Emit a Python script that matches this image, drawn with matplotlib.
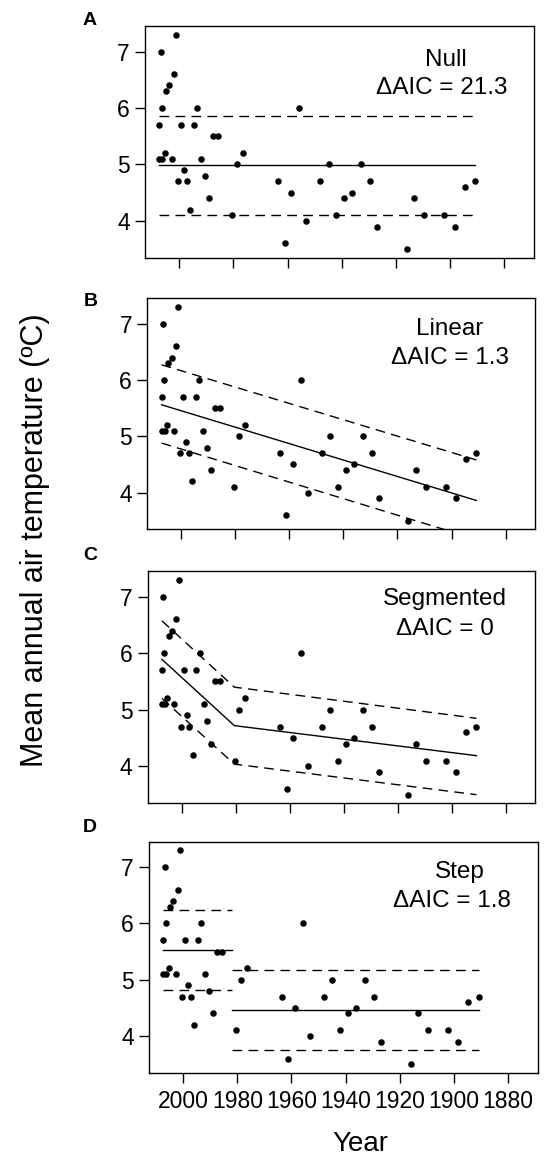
import numpy as np
import matplotlib
matplotlib.use("Agg")
import matplotlib.pyplot as plt

plt.rcParams['font.family'] = ['Liberation Sans', 'DejaVu Sans']

years = np.array([2007.3, 2007.3, 2006.8, 2006.4, 2006.2, 2005.3, 2004.8, 2003.6,
                  2002.8, 2002.0, 2001.1, 2000.4, 1999.3, 1998.2, 1997.2, 1995.9,
                  1994.6, 1993.4, 1991.9, 1990.5, 1989.0, 1987.5, 1985.7, 1980.4,
                  1978.6, 1976.6, 1963.4, 1961.1, 1958.6, 1955.8, 1953.2, 1947.9,
                  1944.9, 1942.1, 1939.2, 1936.1, 1932.8, 1929.6, 1926.9, 1916.0,
                  1913.2, 1909.5, 1902.2, 1898.4, 1894.7, 1890.8])
temps = np.array([5.7, 5.1, 7.0, 6.0, 5.1, 5.2, 6.3, 6.4,
                  5.1, 6.6, 7.3, 4.7, 5.7, 4.9, 4.7, 4.2,
                  5.7, 6.0, 5.1, 4.8, 4.4, 5.5, 5.5, 4.1,
                  5.0, 5.2, 4.7, 3.6, 4.5, 6.0, 4.0, 4.7,
                  5.0, 4.1, 4.4, 4.5, 5.0, 4.7, 3.9, 3.5,
                  4.4, 4.1, 4.1, 3.9, 4.6, 4.7])

# fitted models (fit, upper, lower)
null_years = [2007.3, 1890.8]
null_fit = [4.99, 4.99]
null_upper = [5.86, 5.86]
null_lower = [4.11, 4.11]

lin_years = [2007.3, 1890.8]
lin_fit = [5.56, 3.86]
lin_upper = [6.27, 4.58]
lin_lower = [4.88, 3.17]

seg_years = [2007.3, 1980.5, 1890.8]
seg_fit = [5.89, 4.72, 4.19]
seg_upper = [6.57, 5.40, 4.85]
seg_lower = [5.20, 4.04, 3.50]

step_years_1 = [2007.3, 1982.0]
step_years_2 = [1982.0, 1890.8]
step_fit = [5.53, 4.46]
step_upper = [6.23, 5.165]
step_lower = [4.82, 3.76]

panel_letters = ['A', 'B', 'C', 'D']
model_names = ['Null', 'Linear', 'Segmented', 'Step']
delta_aic = ['21.3', '1.3', '0', '1.8']

x_ticks = [2000, 1980, 1960, 1940, 1920, 1900, 1880]
y_ticks = [4, 5, 6, 7]

W, H = 544, 1155
fig = plt.figure(figsize=(W / 100, H / 100), dpi=100)

# axes boxes in pixels: left, top, right, bottom
boxes = [(145, 26, 534, 257.7), (147.3, 298.3, 535, 529.3),
         (147.7, 571, 535, 803.3), (149, 841.7, 537.7, 1072.7)]
letter_pos = [(82.7, 25), (83.3, 306), (83, 560), (83, 832)]
name_pos = [(445.7, 65.7), (450, 335), (445, 605), (460.3, 878.3)]
aic_pos = [(441.7, 94), (450, 364), (445, 635), (451.5, 907.3)]

dash = (0, (7, 4.5))
lw = 1.0

for i, (l, t, r, b) in enumerate(boxes):
    ax = fig.add_axes([l / W, 1 - b / H, (r - l) / W, (b - t) / H])
    ax.scatter(years, temps, s=22, color='black', zorder=3, linewidths=0)

    if i == 0:
        ax.plot(null_years, null_fit, color='black', lw=lw)
        ax.plot(null_years, null_upper, color='black', lw=lw, ls=dash)
        ax.plot(null_years, null_lower, color='black', lw=lw, ls=dash)
    elif i == 1:
        ax.plot(lin_years, lin_fit, color='black', lw=lw)
        ax.plot(lin_years, lin_upper, color='black', lw=lw, ls=dash)
        ax.plot(lin_years, lin_lower, color='black', lw=lw, ls=dash)
    elif i == 2:
        ax.plot(seg_years, seg_fit, color='black', lw=lw)
        ax.plot(seg_years, seg_upper, color='black', lw=lw, ls=dash)
        ax.plot(seg_years, seg_lower, color='black', lw=lw, ls=dash)
    else:
        for seg, k in ((step_years_1, 0), (step_years_2, 1)):
            ax.plot(seg, [step_fit[k]] * 2, color='black', lw=lw)
            ax.plot(seg, [step_upper[k]] * 2, color='black', lw=lw, ls=dash)
            ax.plot(seg, [step_lower[k]] * 2, color='black', lw=lw, ls=dash)

    ax.set_xlim(2012.6, 1869.1)
    ax.set_ylim(3.348, 7.452)
    ax.set_xticks(x_ticks)
    ax.set_yticks(y_ticks)
    ax.tick_params(direction='out', length=7, width=1, labelsize=16.5, pad=4)
    ax.tick_params(axis='x', pad=5.5)
    if i < 3:
        ax.set_xticklabels([])
    for s in ax.spines.values():
        s.set_linewidth(1.0)

    fig.text(letter_pos[i][0] / W, 1 - letter_pos[i][1] / H, panel_letters[i],
             fontsize=14, fontweight='bold', ha='left', va='baseline')
    fig.text(name_pos[i][0] / W, 1 - name_pos[i][1] / H, model_names[i],
             fontsize=17.5, ha='center', va='baseline')
    fig.text(aic_pos[i][0] / W, 1 - aic_pos[i][1] / H, '\u0394AIC = ' + delta_aic[i],
             fontsize=17.5, ha='center', va='baseline')

fig.text(35 / W, 1 - 540 / H, 'Mean annual air temperature (\u00baC)',
         rotation=90, fontsize=22, ha='center', va='center')
fig.text(360.8 / W, 1 - 1150.7 / H, 'Year', fontsize=20, ha='center', va='baseline')

fig.savefig('out.png', dpi=100)
